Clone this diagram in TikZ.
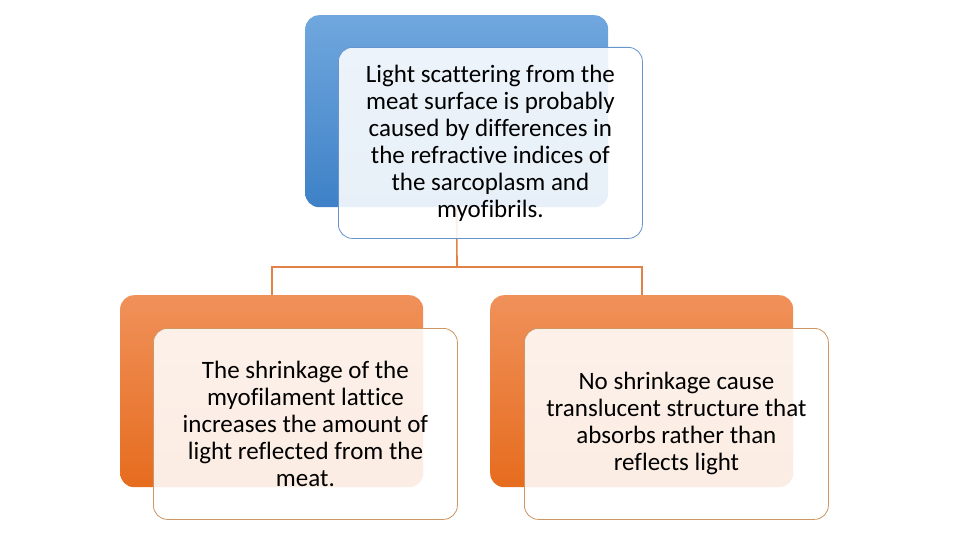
\documentclass[tikz,border=0pt]{standalone}
\usepackage{fontspec}
\setmainfont{Carlito}[Ligatures=NoCommon]
\begin{document}
\begin{tikzpicture}[x=1pt,y=-1pt,
  back/.style={rectangle, rounded corners=14pt, minimum width=303pt, minimum height=192pt, inner sep=0pt, anchor=north west},
  front/.style={rectangle, rounded corners=14pt, minimum width=304pt, minimum height=191pt, inner sep=0pt, anchor=north west, fill=white, fill opacity=0.88, text opacity=1, line width=0.8pt, align=center, font=\fontsize{25}{27}\selectfont},
  conn/.style={draw=connorange, line width=1.6pt}]
\definecolor{blueTop}{RGB}{112,167,222}
\definecolor{blueBot}{RGB}{62,129,199}
\definecolor{orTop}{RGB}{240,145,90}
\definecolor{orBot}{RGB}{230,108,30}
\definecolor{blueEdge}{RGB}{100,150,205}
\definecolor{orEdge}{RGB}{205,150,100}
\definecolor{connorange}{RGB}{225,130,70}
\useasboundingbox (0,0) rectangle (960,540);
% nodes (invisible placement) for connectors
\node[back] (tb) at (305,15) {};
\node[back] (lb) at (120,295) {};
\node[back] (rb) at (490,295) {};
\coordinate (mid) at (457,267);
\draw[conn] (tb.south) -- (mid);
\draw[conn] (mid) -| (lb.north);
\draw[conn] (mid) -| (rb.north);
% boxes
\node[back, top color=blueTop, bottom color=blueBot] (tbf) at (305,15) {};
\node[front, draw=blueEdge] (tw) at (338,47) {Light scattering from the\\meat surface is probably\\caused by differences in\\the refractive indices of\\the sarcoplasm and\\myofibrils.};
\node[back, top color=orTop, bottom color=orBot] (lbf) at (120,295) {};
\node[front, draw=orEdge] (lw) at (153,328) {The shrinkage of the\\myofilament lattice\\increases the amount of\\light reflected from the\\meat.};
\node[back, top color=orTop, bottom color=orBot] (rbf) at (490,295) {};
\node[front, draw=orEdge] (rw) at (524,328) {No shrinkage cause\\translucent structure that\\absorbs rather than\\reflects light};
\end{tikzpicture}
\end{document}
